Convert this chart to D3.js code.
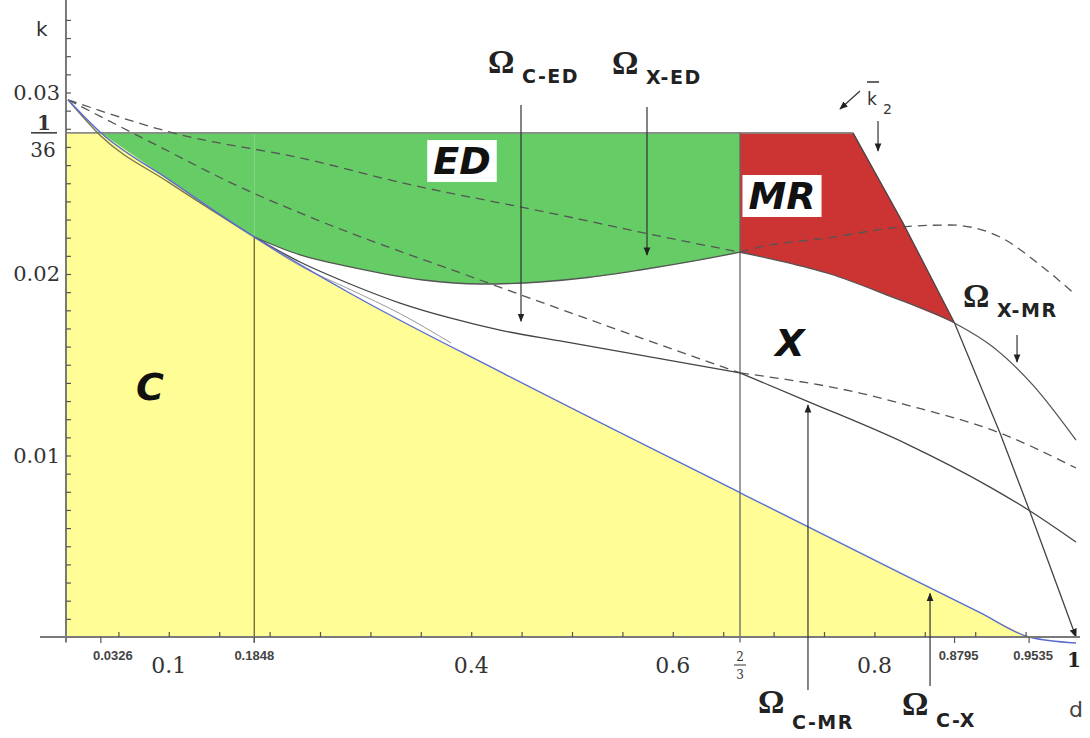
<html>
<head>
<script src="https://d3js.org/d3.v7.min.js"></script>
<style>body{margin:0;background:#fff}</style>
</head>
<body>
<svg></svg>
<script>
var W=1090,H=738;

// boundaries, each point is [d, k]
var cBound=[[0,0.0296],[0.0326,1/36],[0.1,0.0252],[0.1848,0.02204],[0.2798,0.01894],[0.4355,0.01442],[2/3,0.00795],[0.8284,0.00345],[0.9048,0.00134],[0.9535,0],[1,-0.00033]];
var cBound2=[[0,0.0296],[0.0326,0.0276],[0.1,0.02505],[0.1848,0.02204]];
var cxLine=[[0.1848,0.02204],[0.2302,0.02045],[0.2798,0.01915],[0.33,0.0178],[0.38,0.0162]];
var edLower=[[0.1848,0.02204],[0.2302,0.02105],[0.2798,0.02039],[0.3522,0.01967],[0.4087,0.01945],[0.4683,0.01956],[0.5179,0.01982],[0.5675,0.02022],[0.6171,0.02068],[2/3,0.0212]];
var xmrLine=[[2/3,0.0212],[0.7063,0.02072],[0.756,0.02],[0.8125,0.01884],[0.8795,0.0173],[0.9177,0.01598],[0.9573,0.01388],[1,0.01085]];
var k2Line=[[0.7788,1/36],[0.8284,0.02281],[0.8795,0.0173],[0.9246,0.01124],[0.9544,0.00689],[1,0]];
var cedLine=[[0.1848,0.02204],[0.2302,0.02066],[0.2798,0.01945],[0.3294,0.0184],[0.379,0.01758],[0.4286,0.01691],[0.4881,0.01631],[2/3,0.01455]];
var cmrLine=[[2/3,0.01455],[0.7331,0.013],[0.8323,0.01063],[0.9147,0.00826],[0.9544,0.00694],[1,0.00523]];
var dashA1=[[0,0.0296],[0.1012,0.02782],[0.2401,0.02628],[0.3194,0.02518],[0.4881,0.02325],[0.5675,0.02231],[2/3,0.0212]];
var dashA2=[[2/3,0.0212],[0.6865,0.02149],[0.753,0.02198],[0.8284,0.0226],[0.875,0.0227],[0.9246,0.02204],[0.9643,0.0205],[1,0.01884]];
var dashB1=[[0,0.0296],[0.0913,0.027],[0.1706,0.02479],[0.2401,0.02314],[0.4087,0.01967],[0.4851,0.01813],[2/3,0.01455]];
var dashB2=[[2/3,0.01455],[0.7857,0.01344],[0.8323,0.01278],[0.9246,0.01124],[1,0.00931]];

var yTickLabels=[0.01,0.02,0.03];
var xTickLabels=[0.1,0.4,0.6,0.8];
var xSpecial=[0.0326,0.1848,0.8795,0.9535];

var svg=d3.select("svg").attr("width",W).attr("height",H);
var x=d3.scaleLinear().domain([0,1]).range([68,1076]);
var y=d3.scaleLinear().domain([0,0.03]).range([637,92.5]);
var ax=x(-0.002);
var top36=1/36;

var smooth=d3.line().x(p=>x(p[0])).y(p=>y(p[1])).curve(d3.curveMonotoneX);
var straight=d3.line().x(p=>x(p[0])).y(p=>y(p[1]));
function areaTo(k0,curve){return d3.area().x(p=>x(p[0])).y0(y(k0)).y1(p=>y(p[1])).curve(curve||d3.curveMonotoneX);}

var defs=svg.append("defs");
defs.append("marker").attr("id","ah").attr("viewBox","0 0 10 10").attr("refX",9).attr("refY",5)
  .attr("markerWidth",7).attr("markerHeight",7).attr("orient","auto")
  .append("path").attr("d","M0,1 L10,5 L0,9 z").attr("fill","#222");

// ---- fills
var yellowCol="#fffd96",greenCol="#66cc66",redCol="#cc3333";
svg.append("rect").attr("x",ax).attr("y",y(top36)).attr("width",x(0.0326)-ax+0.5)
  .attr("height",y(0)-y(top36)).attr("fill",yellowCol);
var cUnder=cBound.filter(p=>p[0]>=0.0326&&p[0]<=0.9535);
svg.append("path").attr("d",areaTo(0)(cUnder)).attr("fill",yellowCol);

svg.append("path").attr("d",areaTo(top36)(cBound.filter(p=>p[0]>=0.0326&&p[0]<=0.1848))).attr("fill",greenCol);
svg.append("path").attr("d",areaTo(top36)(edLower)).attr("fill",greenCol);

defs.append("clipPath").attr("id","mrclip").append("path")
  .attr("d",areaTo(0.04)(xmrLine.filter(p=>p[0]<=0.8795)));
var redTop=[[2/3,top36]].concat(k2Line.filter(p=>p[0]<=0.8795));
svg.append("path").attr("d",areaTo(0,d3.curveLinear)(redTop)).attr("fill",redCol).attr("clip-path","url(#mrclip)");

// ---- straight guide lines
svg.append("line").attr("x1",ax).attr("x2",x(0.7788)).attr("y1",y(top36)).attr("y2",y(top36))
  .attr("stroke","#8a8a8a").attr("stroke-width",1.6);
svg.append("line").attr("x1",x(2/3)).attr("x2",x(2/3)).attr("y1",y(top36)).attr("y2",y(-0.0003))
  .attr("stroke","#666").attr("stroke-width",1.3);
svg.append("line").attr("x1",x(0.1848)).attr("x2",x(0.1848)).attr("y1",y(0.02204)).attr("y2",y(-0.0003))
  .attr("stroke","#666633").attr("stroke-width",1.3);

// ---- curves
function curve(data,col,w,dash,gen){
  var p=svg.append("path").attr("d",(gen||smooth)(data)).attr("fill","none")
    .attr("stroke",col).attr("stroke-width",w);
  if(dash)p.attr("stroke-dasharray",dash);
  return p;
}
curve(dashA1,"#555",1.3,"9,6");
curve(dashA2,"#555",1.3,"9,6");
curve(dashB1,"#555",1.3,"9,6");
curve(dashB2,"#555",1.3,"9,6");
curve(cBound2,"#777744",1.3);
curve(cxLine,"#999",1);
curve(edLower,"#555",1.3);
curve(xmrLine,"#555",1.3);
curve(cedLine,"#444",1.3);
curve(cmrLine,"#444",1.3);
curve(k2Line,"#444",1.3,null,straight).attr("marker-end","url(#ah)");
curve(cBound,"#5a6cd0",1.4);

// ---- axes
svg.append("line").attr("x1",40).attr("x2",1080).attr("y1",y(0)).attr("y2",y(0)).attr("stroke","#7a7a7a").attr("stroke-width",2);
svg.append("line").attr("x1",ax).attr("x2",ax).attr("y1",0).attr("y2",y(-0.0003)).attr("stroke","#7a7a7a").attr("stroke-width",2);

var yAxis=svg.append("g").attr("transform","translate("+ax+",0)")
  .call(d3.axisRight(y).tickValues(d3.range(1,35).map(i=>i/1000)).tickSize(5).tickFormat(""));
yAxis.select(".domain").remove();
yAxis.selectAll("line").attr("stroke","#555").attr("stroke-width",1.2);

var xAxis=svg.append("g").attr("transform","translate(0,"+y(0)+")")
  .call(d3.axisTop(x).tickValues(d3.range(1,20).map(i=>i*0.05)).tickSize(5).tickFormat(""));
xAxis.select(".domain").remove();
xAxis.selectAll("line").attr("stroke","#555").attr("stroke-width",1.2);
svg.selectAll(".xsp").data(xSpecial).enter().append("line")
  .attr("x1",d=>x(d)).attr("x2",d=>x(d)).attr("y1",y(0)).attr("y2",y(0)+6)
  .attr("stroke","#555").attr("stroke-width",1.2);

var serif="'DejaVu Serif', serif",sans="'DejaVu Sans', sans-serif";
svg.selectAll(".yl").data(yTickLabels).enter().append("text")
  .attr("x",60).attr("y",d=>y(d)+7).attr("text-anchor","end")
  .attr("font-family",serif).attr("font-size",21).attr("fill","#333")
  .text(d=>d3.format(".2f")(d));
// 1/36 fraction
svg.append("text").attr("x",44).attr("y",y(top36)-3).attr("text-anchor","middle")
  .attr("font-family",serif).attr("font-size",20).attr("font-weight","bold").attr("fill","#333").text("1");
svg.append("line").attr("x1",31).attr("x2",57).attr("y1",y(top36)).attr("y2",y(top36)).attr("stroke","#333").attr("stroke-width",1.5);
svg.append("text").attr("x",43).attr("y",y(top36)+24).attr("text-anchor","middle")
  .attr("font-family",serif).attr("font-size",20).attr("fill","#333").text("36");
svg.append("text").attr("x",36).attr("y",36).attr("font-family",sans).attr("font-size",20).attr("fill","#333").text("k");

svg.selectAll(".xl").data(xTickLabels).enter().append("text")
  .attr("x",d=>x(d)).attr("y",673).attr("text-anchor","middle")
  .attr("font-family",serif).attr("font-size",22).attr("fill","#333")
  .text(d=>d3.format(".1f")(d));
svg.selectAll(".xs").data(xSpecial).enter().append("text")
  .attr("x",d=>x(d)+(d<0.1?12:d>0.85?4:0)).attr("y",660).attr("text-anchor","middle")
  .attr("font-family","'Liberation Sans', sans-serif").attr("font-weight","bold").attr("font-size",13).attr("fill","#444")
  .text(d=>d3.format(".4f")(d));
svg.append("text").attr("x",x(2/3)).attr("y",661).attr("text-anchor","middle")
  .attr("font-family",serif).attr("font-size",12).attr("fill","#333").text("2");
svg.append("line").attr("x1",x(2/3)-6).attr("x2",x(2/3)+6).attr("y1",665).attr("y2",665).attr("stroke","#333");
svg.append("text").attr("x",x(2/3)).attr("y",679).attr("text-anchor","middle")
  .attr("font-family",serif).attr("font-size",12).attr("fill","#333").text("3");
svg.append("text").attr("x",x(1)-2).attr("y",667).attr("text-anchor","middle")
  .attr("font-family",serif).attr("font-weight","bold").attr("font-size",20).attr("fill","#222").text("1");
svg.append("text").attr("x",x(1)).attr("y",717).attr("text-anchor","middle")
  .attr("font-family",sans).attr("font-size",22).attr("fill","#444").text("d");

// ---- region names
function region(t,cx,base,box){
  var g=svg.append("g");
  var tx=g.append("text").attr("x",cx).attr("y",base).attr("text-anchor","middle")
    .attr("font-family",sans).attr("font-weight","bold").attr("font-style","italic")
    .attr("font-size",38).attr("fill","#111").text(t);
  if(box){
    var b=tx.node().getBBox();
    g.insert("rect","text").attr("x",b.x-6).attr("y",base-34).attr("width",b.width+12).attr("height",42).attr("fill","#fff");
  }
}
region("ED",462,174,true);
region("MR",782,209,true);
region("X",790,356,false);
region("C",150,400,false);

// ---- omega labels and arrows
function omega(xo,base,sub,subBase){
  svg.append("text").attr("x",xo).attr("y",base).attr("font-family","'Liberation Serif', serif")
    .attr("font-weight","bold").attr("font-size",33).attr("fill","#222").text("\u03A9");
  svg.append("text").attr("x",xo+34).attr("y",subBase).attr("font-family",sans)
    .attr("font-weight","bold").attr("font-size",19).attr("letter-spacing",1.5).attr("fill","#222").text(sub);
}
omega(488,73,"C-ED",83);
omega(612,74,"X-ED",84);
omega(963,307,"X-MR",317);
omega(758,713,"C-MR",729);
omega(902,715,"C-X",727);

function arrow(x1,y1,x2,y2){
  svg.append("line").attr("x1",x1).attr("y1",y1).attr("x2",x2).attr("y2",y2)
    .attr("stroke","#333").attr("stroke-width",1.2).attr("marker-end","url(#ah)");
}
arrow(x(0.4494),105,x(0.4494),y(0.0174));
arrow(x(0.5744),107,x(0.5744),y(0.02105));
arrow(x(0.7341),690,x(0.7341),y(0.01278));
arrow(x(0.8552),686,x(0.8552),y(0.0024));
arrow(x(0.9415),335,x(0.9415),362);
arrow(x(0.8036),121,x(0.8036),151);
arrow(860,91,840,109);

// k bar 2
svg.append("text").attr("x",867).attr("y",105).attr("font-family",sans).attr("font-size",17).attr("fill","#333").text("k");
svg.append("line").attr("x1",867).attr("x2",879).attr("y1",82).attr("y2",82).attr("stroke","#333").attr("stroke-width",1.5);
svg.append("text").attr("x",883).attr("y",114).attr("font-family",sans).attr("font-size",14).attr("fill","#333").text("2");
</script>
</body>
</html>
